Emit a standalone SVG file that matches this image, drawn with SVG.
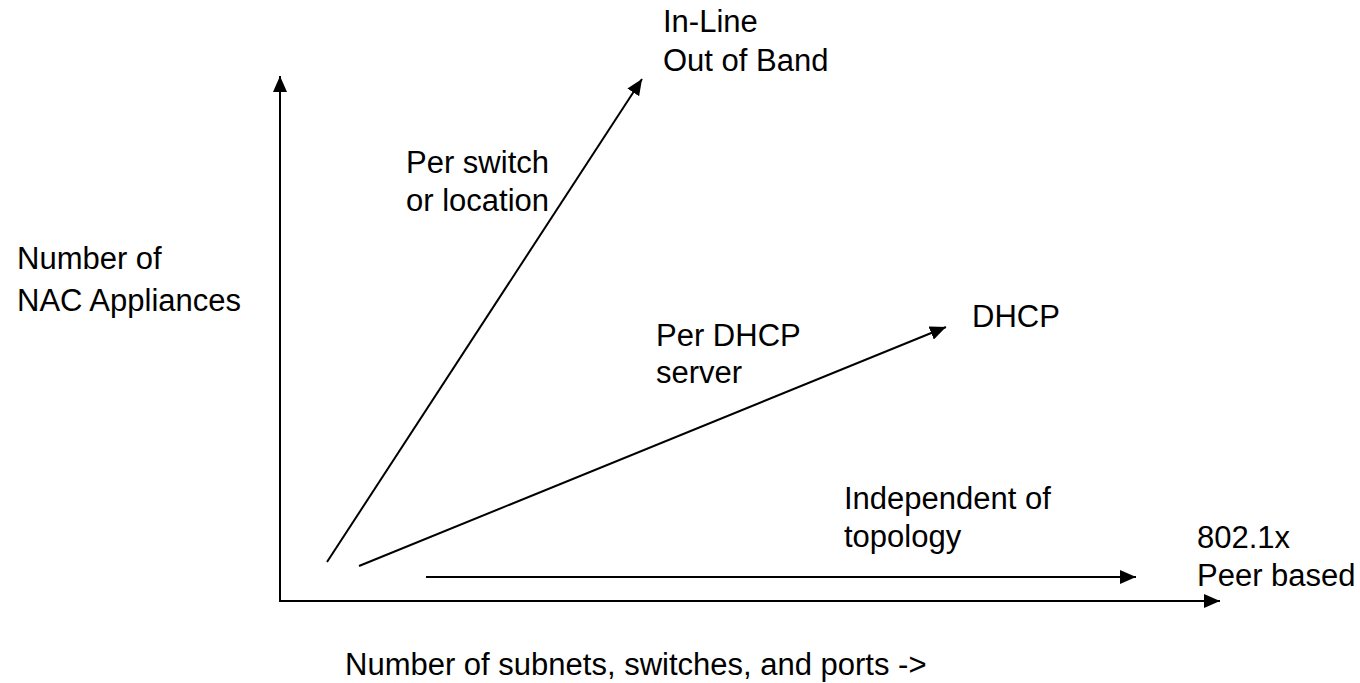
<svg xmlns="http://www.w3.org/2000/svg" width="1360" height="683" viewBox="0 0 1360 683">
  <style>
    .lbl { font-family: "Liberation Sans", Arial, sans-serif; font-size: 31px; fill: #000; }
    .ln { stroke: #000; stroke-width: 2; fill: none; marker-end: url(#arrow); }
  </style>
  <defs>
    <marker id="arrow" markerUnits="userSpaceOnUse" markerWidth="16" markerHeight="14" refX="16" refY="7" orient="auto" viewBox="0 0 16 14">
      <path d="M0,0 L16,7 L0,14 z" fill="#000"/>
    </marker>
  </defs>
  <rect width="1360" height="683" fill="#fff"/>

  <g id="connectors">
    <!-- axes -->
    <line class="ln" x1="280" y1="601" x2="280" y2="76"/>
    <line class="ln" x1="279" y1="601" x2="1220" y2="601"/>
    <!-- deployment trends -->
    <line class="ln" x1="327" y1="562" x2="642" y2="79"/>
    <line class="ln" x1="359" y1="566" x2="946" y2="327"/>
    <line class="ln" x1="426" y1="577" x2="1136" y2="577"/>
  </g>

  <g id="inline-oob">
    <text class="lbl" x="663" y="32">In-Line</text>
    <text class="lbl" x="663" y="71">Out of Band</text>
  </g>
  <g id="per-switch">
    <text class="lbl" x="406" y="173">Per switch</text>
    <text class="lbl" x="406" y="211">or location</text>
  </g>
  <g id="y-axis-label">
    <text class="lbl" x="17" y="269">Number of</text>
    <text class="lbl" x="17" y="311">NAC Appliances</text>
  </g>
  <g id="dhcp">
    <text class="lbl" x="972" y="327">DHCP</text>
  </g>
  <g id="per-dhcp">
    <text class="lbl" x="656" y="346">Per DHCP</text>
    <text class="lbl" x="656" y="383">server</text>
  </g>
  <g id="independent">
    <text class="lbl" x="844" y="509">Independent of</text>
    <text class="lbl" x="844" y="547">topology</text>
  </g>
  <g id="dot1x">
    <text class="lbl" x="1197" y="548">802.1x</text>
    <text class="lbl" x="1197" y="586">Peer based</text>
  </g>
  <g id="x-axis-label">
    <text class="lbl" x="345" y="675">Number of subnets, switches, and ports -&gt;</text>
  </g>
</svg>
